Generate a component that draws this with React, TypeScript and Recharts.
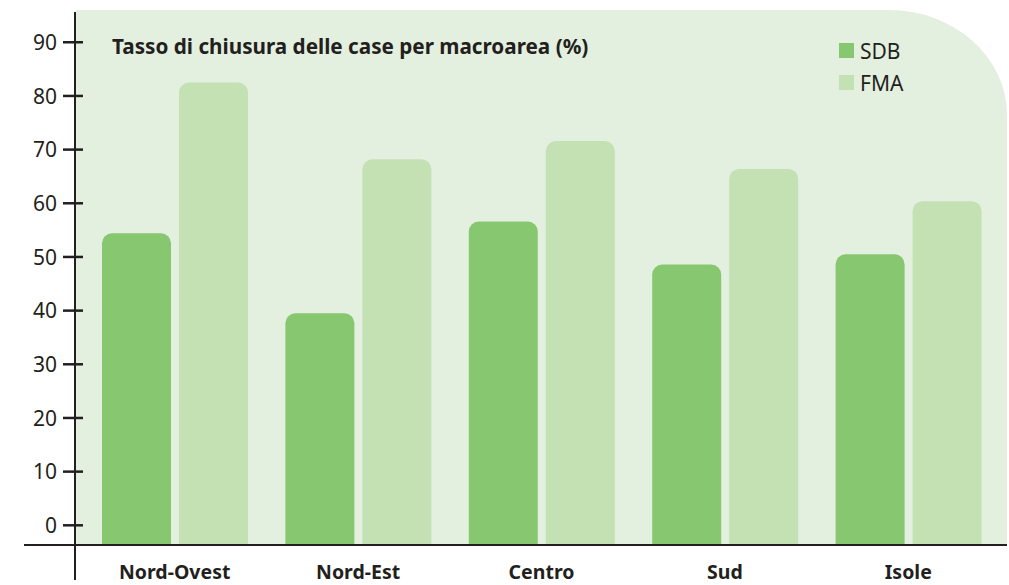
import { BarChart, Bar, XAxis, YAxis } from 'recharts';

const REGIONS = ['Nord-Ovest', 'Nord-Est', 'Centro', 'Sud', 'Isole'];
const SDB = [54.4, 39.5, 56.6, 48.6, 50.5];
const FMA = [82.5, 68.2, 71.6, 66.4, 60.4];
const Y_TICKS = [0, 10, 20, 30, 40, 50, 60, 70, 80, 90];

const TITLE = 'Tasso di chiusura delle case per macroarea (%)';
const FONT = '"Noto Sans", "Open Sans", sans-serif';
const INK = '#231f20';
const SDB_COLOR = '#87c770';
const FMA_COLOR = '#c4e1b4';
const PANEL = '#e3f0df';

// bars rise from the x axis line, which sits a little below zero
const FLOOR = -3.67;
const CEIL = 95.64;

const data = REGIONS.map((name, i) => ({
  name,
  SDB: [FLOOR, SDB[i]],
  FMA: [FLOOR, FMA[i]],
}));

const LEGEND = [
  { label: 'SDB', color: SDB_COLOR },
  { label: 'FMA', color: FMA_COLOR },
];

function YTick({ x, y, payload }: any) {
  return (
    <g>
      <line x1={x - 12} x2={x + 8} y1={y} y2={y} stroke={INK} strokeWidth={2.5} />
      <text x={x - 18} y={y} dy="0.36em" textAnchor="end" fontSize={21} fontFamily={FONT} fill={INK}>
        {payload.value}
      </text>
    </g>
  );
}

function XTick({ x, y, payload }: any) {
  return (
    <text x={x} y={y} dy={33.5} textAnchor="middle" fontSize={19.5} fontWeight={700} fontFamily={FONT} fill={INK}>
      {payload.value}
    </text>
  );
}

export default function App() {
  return (
    <div style={{ position: 'absolute', left: 0, top: 0, width: 1009, height: 585, background: '#fff', overflow: 'hidden' }}>
      {/* light green panel with the big rounded corner */}
      <div
        style={{
          position: 'absolute',
          left: 76,
          top: 10,
          width: 931,
          height: 535,
          background: PANEL,
          borderTopRightRadius: '118px 105px',
        }}
      />
      <div
        style={{
          position: 'absolute',
          left: 112,
          top: 35.5,
          fontFamily: FONT,
          fontWeight: 700,
          fontSize: 20.7,
          lineHeight: '21px',
          color: INK,
          whiteSpace: 'nowrap',
        }}
      >
        {TITLE}
      </div>
      {LEGEND.map((it, i) => (
        <div key={it.label} style={{ position: 'absolute', left: 839, top: 43 + i * 32 }}>
          <div style={{ position: 'absolute', left: 0, top: 0, width: 15, height: 15, background: it.color }} />
          <div
            style={{
              position: 'absolute',
              left: 21,
              top: -2.5,
              fontFamily: FONT,
              fontSize: 21,
              lineHeight: '21px',
              color: INK,
            }}
          >
            {it.label}
          </div>
        </div>
      ))}
      <div style={{ position: 'absolute', left: 0, top: 0 }}>
        <BarChart
          width={1009}
          height={585}
          data={data}
          margin={{ top: 12, right: 9, bottom: 0, left: 0 }}
          barSize={69}
          barGap={8}
        >
          <XAxis
            dataKey="name"
            height={40}
            axisLine={false}
            tickLine={false}
            tickSize={0}
            tickMargin={0}
            padding={{ left: 8, right: 0 }}
            tick={<XTick />}
            interval={0}
          />
          <YAxis
            width={75}
            domain={[FLOOR, CEIL]}
            ticks={Y_TICKS}
            allowDataOverflow
            axisLine={false}
            tickLine={false}
            tickSize={0}
            tickMargin={0}
            tick={<YTick />}
            interval={0}
          />
          <Bar dataKey="SDB" fill={SDB_COLOR} radius={[10, 10, 0, 0]} isAnimationActive={false} />
          <Bar dataKey="FMA" fill={FMA_COLOR} radius={[10, 10, 0, 0]} isAnimationActive={false} />
        </BarChart>
      </div>
      {/* axis lines: the vertical one runs below the baseline, the horizontal one past the left */}
      <div style={{ position: 'absolute', left: 73.75, top: 12, width: 2.5, height: 568, background: INK }} />
      <div style={{ position: 'absolute', left: 24, top: 543.75, width: 983, height: 2.5, background: INK }} />
    </div>
  );
}
